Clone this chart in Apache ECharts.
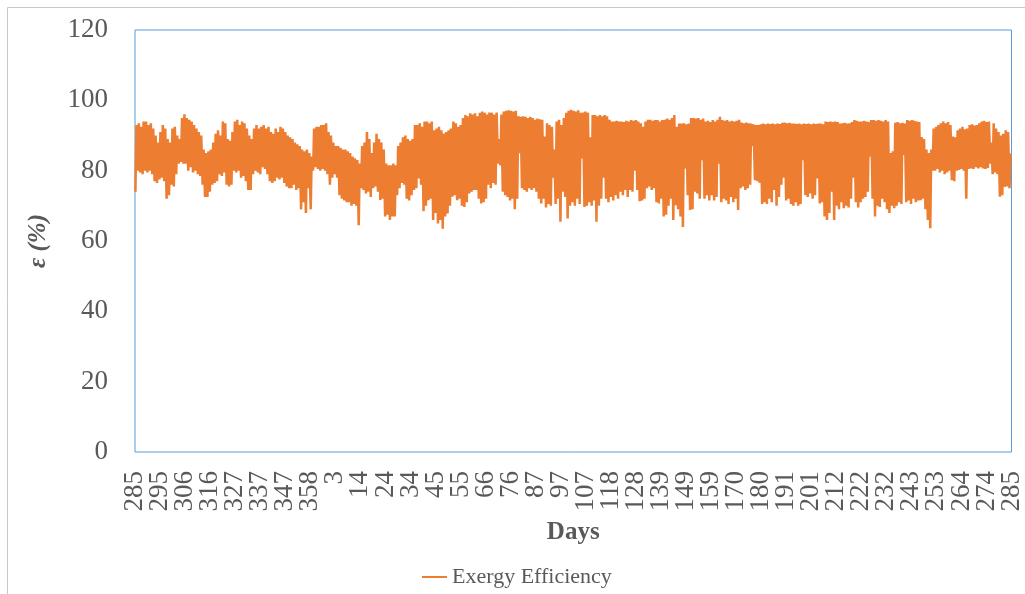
<!DOCTYPE html>
<html>
<head>
<meta charset="utf-8">
<script src="https://cdn.jsdelivr.net/npm/echarts@6/dist/echarts.min.js"></script>
<style>
html,body{margin:0;padding:0;background:#fff;}
#chart{width:1025px;height:594px;}
</style>
</head>
<body>
<div id="chart"></div>
<script>
// Tick labels along the x axis (day of year), one every 250 hours
var tickLabels = ['285','295','306','316','327','337','347','358','3','14','24','34','45','55','66','76','87','97','107','118','128','139','149','159','170','180','191','201','212','222','232','243','253','264','274','285'];

// Daily maximum exergy efficiency (%), day 0 = day 285
var dailyHigh = [
93,93.5,92.5,94,94,93,93.5,92,90,88,
91,93,92,89,88,92,92.5,90,89,95,
96,95,94.5,94,93,92,91,90,86,85,
85.5,86,88,90.5,91.5,90,94,93.5,89,88.5,
91,94,94.5,93,94,93.5,92,90,89,92,
93,92,92.5,93,92,92.5,91,90.5,92,91,
92.5,92,91,90,89.5,89,88,87.5,87,86,
85.5,86,85,84,92,92.5,92.5,93,93,93.5,
91,90,88,87,87,86.5,86,86,85.5,85,
84,83.5,83,82,87,88,91,89,85,88,
90.5,89,88,86,82,81.5,81.5,82,81.5,87,
88,89.5,90,89,88.5,89,93,93,93.5,92.5,
94,94,93.5,94,91.5,92,92.5,91.5,90.6,91,
91.5,92,94,93.5,92.5,93,95,95.8,95.5,96.3,
96,96.3,95.5,96.5,96.8,96.5,96,96.5,96.5,96,
96.5,89,96,96.8,97,97.2,97,96.8,97,95.5,
95.3,95.5,95.3,95,95.3,95,94.5,94.8,94.6,94.5,
89.7,93.5,93,92.5,86,94,94.5,93,95,96.5,
97,97.3,97,96.8,97.2,96.5,96.5,96.8,96.5,89.5,
95.8,95.8,95.5,95.8,95.5,95.8,95.5,94.5,94,94,
94.2,94,94,93.8,94.2,94,94.4,94.2,94.4,94,
93.5,92.5,94,94.5,94.5,94.2,94.4,94.4,94,94.4,
94.5,94.8,94.5,95,95.8,92.5,93.4,93.4,93.5,93.2,
93.4,95,95,94.8,95,94.5,94.8,94,94.2,93.8,
94.4,94,94.5,95.3,94.4,94.2,94.4,94,94.2,94,
94.2,94.5,93.7,93.5,93.7,93.5,93.4,93.2,93,93,
93.2,93.4,93.2,93.4,93.3,93.4,93.2,93.4,93.3,93.6,
93.7,93.5,93.6,93.4,93.4,93.3,93.4,93.2,93.4,93.3,
93.4,93.2,93.4,93.3,93.4,93.4,93.2,94,93.8,94,
93.8,94,93.8,93.4,93.5,93.6,93.4,93.5,93.8,94.4,
94.2,94,94,94.2,94,93.8,94.4,94.4,94.2,94.4,
94.2,94,94.4,94,85,85.5,93.6,93.8,93.5,93.6,
93.4,94.4,94.2,94.4,94.2,94,93.8,89.6,89,86,
85,86,92,92.5,93,93.5,94,93.5,93.8,93,
89.7,89.5,91.5,92,92.5,91.8,92,93,93.2,92.8,
93,93.5,94,94.2,93.8,94,88,93.5,92,91,
90,90.5,91.5,91,84.9
];

// Daily minimum exergy efficiency (%)
var dailyLow = [
74,80,79.5,79,80,79.5,80,79,77,76.5,
77.5,78,77,72,73,76,75.5,79,82,82.5,
82,82,80,81,79.5,80,79,78.5,76,72.5,
72.5,74,76,76.5,77,79,78.5,79.5,76,75.5,
76,80,79.5,80,78,78.5,77,74.5,74.5,79,
80,79.5,79,81,80.5,79,77,76.5,77,78,
77.5,78,76.5,75.5,75,75,76,74.5,75,69,
71,68,75,69,80,81,80.5,80,80.5,80,
79,76,78,79,78,73,72,71.5,71,71,
70,70.5,70,64.5,75,74.5,73.5,74,72.5,75,
75.5,74,71.7,72,67,67.5,66,67,67,73,
75,76.5,76,72,71.5,73,74.5,75,77.8,76,
68.5,70,71.6,72,66,68,65,66,63.5,67,
67.8,70,72.6,73,71.6,72,70,69.7,71,73.5,
74,74.5,74.5,72,70.7,71,72,76,75,76.5,
76,82,81.5,74,73,72.5,71.5,72,69,72,
85,75,74.5,74,75,74.5,75,74,72,70.7,
72,69.5,70.5,70,78,70.5,72,65.5,74,72.5,
66.4,70,71,70,72,70.5,83.5,69.7,70,71,
70,71.5,65.5,70,72,78,72,71,72.5,71.5,
73,72,74,73,74.5,72.5,74.5,74,80,74.5,
71.3,71.5,72,75,75.5,74.5,75,71,70.7,72,
67,67.5,70,72,66,70.2,69,67,64,80.6,
73,68.8,69,74,73.5,72,83,72,73,71.5,
73,71.5,72.5,82,71,72,71.5,70.5,72.5,71,
72,68.8,75,75.5,74.5,75,76,87,77.3,77,
76.5,70.5,71,70.5,72,71,74.5,70,72.5,76,
78,71.5,72,70.5,70,71,70,70.5,83,73,
72.5,73.5,72,73,77.8,70.7,71,67,66,68,
74,66,70,69,71,69.3,70,69.5,72,78,
71,69.5,71,72,72.5,74,84,72,67,70,
69.7,72,71,69,68,70,69.3,70,71,70.5,
84.5,71,71.5,70.5,72,71,71.5,71.6,72,69,
66,63.6,80,80,80.5,79.5,80,79,79.5,80,
77.3,77,80,80.2,80.5,80,72,80.5,80.6,80.5,
81,80.6,81,80.6,80.5,80.8,82,79,79.5,79,
72.6,73,75.4,75.5,75
];

var seriesName = 'Exergy Efficiency';
var hoursPerDay = 24;
var totalHours = 8760;

// Build the hourly-indexed series (low and high reading per day)
var seriesData = [];
for (var d = 0; d < dailyHigh.length; d++) {
  seriesData.push([d * hoursPerDay + 4, dailyLow[d]]);
  seriesData.push([d * hoursPerDay + 14, dailyHigh[d]]);
}

var serif = '"Liberation Serif", "Times New Roman", serif';
var chart = echarts.init(document.getElementById('chart'), null, {renderer: 'canvas'});
chart.setOption({
  animation: false,
  backgroundColor: '#ffffff',
  graphic: [{
    type: 'rect',
    shape: {x: 7.5, y: 7.5, width: 1040, height: 620},
    style: {fill: 'none', stroke: '#c8c8c8', lineWidth: 1},
    silent: true, z: -10
  }],
  grid: {
    left: 135, right: 5, top: 30, bottom: 142,
    show: true, borderColor: '#5b9bd5', borderWidth: 1, backgroundColor: 'transparent'
  },
  legend: {
    data: [seriesName],
    left: 417, top: 561,
    icon: 'rect', itemWidth: 25, itemHeight: 2, itemGap: 5,
    textStyle: {fontFamily: serif, fontSize: 22, color: '#595959'}
  },
  xAxis: [{
    type: 'value',
    min: 0, max: totalHours,
    name: 'Days', nameLocation: 'middle', nameGap: 68,
    nameTextStyle: {fontFamily: serif, fontSize: 25, fontWeight: 'bold', color: '#595959'},
    axisLine: {show: false},
    axisTick: {show: false},
    splitLine: {show: false},
    axisLabel: {show: false}
  }, {
    type: 'category',
    position: 'bottom',
    data: tickLabels,
    boundaryGap: false,
    axisLine: {show: false},
    axisTick: {show: false},
    splitLine: {show: false},
    axisLabel: {
      interval: 0, rotate: 90, margin: 19,
      fontFamily: serif, fontSize: 27, color: '#595959'
    }
  }],
  yAxis: {
    type: 'value',
    min: 0, max: 120, interval: 20,
    name: 'ε (%)', nameLocation: 'middle', nameGap: 84, nameRotate: 90,
    nameTextStyle: {fontFamily: serif, fontSize: 25, fontWeight: 'bold', fontStyle: 'italic', color: '#595959'},
    axisLine: {show: false},
    axisTick: {show: false},
    splitLine: {show: false},
    axisLabel: {margin: 27, fontFamily: serif, fontSize: 27, color: '#595959'}
  },
  series: [{
    name: seriesName,
    type: 'line',
    xAxisIndex: 0,
    data: seriesData,
    showSymbol: false,
    symbol: 'none',
    color: '#ed7d31',
    lineStyle: {color: '#ed7d31', width: 2.5},
    z: 3
  }]
});
</script>
</body>
</html>
